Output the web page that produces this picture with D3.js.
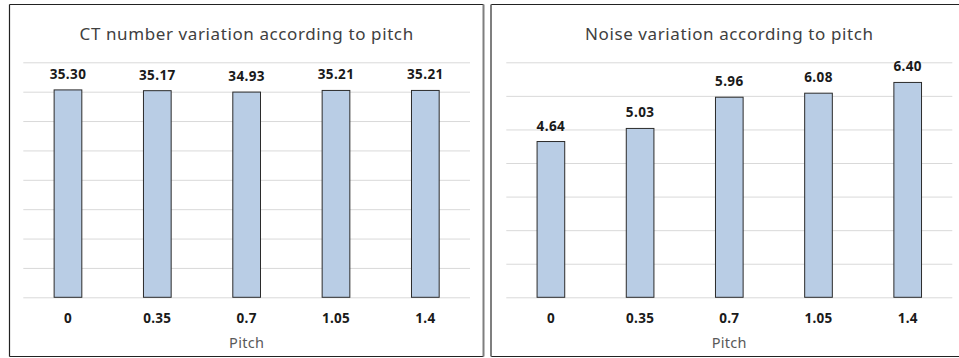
<!DOCTYPE html>
<html>
<head>
<meta charset="utf-8">
<script src="https://cdn.jsdelivr.net/npm/d3@7"></script>
<style>
  html, body { margin: 0; padding: 0; background: #fff; }
  svg { display: block; }
  text { font-family: "Noto Sans", "Open Sans", sans-serif; }
</style>
</head>
<body>
<svg id="chart" width="959" height="358"></svg>
<script>
// Pitch settings (shared category axis)
const pitches = ["0", "0.35", "0.7", "1.05", "1.4"];

// Mean CT number per pitch
const ctValues = [35.30, 35.17, 34.93, 35.21, 35.21];
// Noise (SD) per pitch
const noiseValues = [4.64, 5.03, 5.96, 6.08, 6.40];

// Value axis ticks (gridlines only, no labels)
const ctTicks = [0, 5, 10, 15, 20, 25, 30, 35, 40];
const noiseTicks = [0, 1, 2, 3, 4, 5, 6, 7];

const titles = ["CT number variation according to pitch", "Noise variation according to pitch"];
const xTitle = "Pitch";

const svg = d3.select("#chart");

function panel(cfg) {
  const g = svg.append("g");

  // frame
  const f = cfg.frame;
  g.append("line").attr("x1", f.x0).attr("x2", f.x1).attr("y1", f.y0).attr("y2", f.y0)
    .attr("stroke", "#222").attr("stroke-width", 1.2);
  g.append("line").attr("x1", f.x0).attr("x2", f.x1).attr("y1", f.y1).attr("y2", f.y1)
    .attr("stroke", "#222").attr("stroke-width", 1.2);
  g.append("line").attr("x1", f.x0).attr("x2", f.x0).attr("y1", f.y0).attr("y2", f.y1)
    .attr("stroke", cfg.leftEdge).attr("stroke-width", cfg.leftWidth);
  if (f.right) {
    g.append("line").attr("x1", f.x1).attr("x2", f.x1).attr("y1", f.y0).attr("y2", f.y1)
      .attr("stroke", "#7f7f7f").attr("stroke-width", 2);
  }

  const x = d3.scaleBand().domain(pitches)
    .range([cfg.plot.x0, cfg.plot.x1])
    .paddingInner(0.69).paddingOuter(0.345);
  const y = d3.scaleLinear().domain([0, d3.max(cfg.ticks)])
    .range([cfg.plot.y1, cfg.plot.y0]);

  // gridlines
  const yAxis = d3.axisLeft(y).tickValues(cfg.ticks)
    .tickSize(-(cfg.plot.x1 - cfg.plot.x0)).tickFormat("");
  const ga = g.append("g").attr("transform", `translate(${cfg.plot.x0},0)`).call(yAxis);
  ga.select(".domain").remove();
  ga.selectAll(".tick line").attr("stroke", "#d9d9d9").attr("stroke-width", 1);

  // bars
  const data = pitches.map((p, i) => ({ p, v: cfg.values[i] }));
  g.selectAll("rect.bar").data(data).join("rect")
    .attr("class", "bar")
    .attr("x", d => x(d.p))
    .attr("width", x.bandwidth())
    .attr("y", d => y(d.v))
    .attr("height", d => y(0) - y(d.v))
    .attr("fill", "#b9cde5")
    .attr("stroke", "#2b2b2b")
    .attr("stroke-width", 1);

  // value labels
  g.selectAll("text.val").data(data).join("text")
    .attr("class", "val")
    .attr("x", d => x(d.p) + x.bandwidth() / 2)
    .attr("y", d => y(d.v) - 11)
    .attr("text-anchor", "middle")
    .attr("font-size", 13.5)
    .attr("font-weight", "bold")
    .attr("letter-spacing", 0.4)
    .attr("fill", "#1a1a1a")
    .text(d => d.v.toFixed(2));

  // category labels
  const xAxis = d3.axisBottom(x).tickSize(0).tickPadding(0);
  const gx = g.append("g").attr("transform", `translate(0,${cfg.plot.y1})`).call(xAxis);
  gx.select(".domain").remove();
  gx.selectAll(".tick text")
    .attr("dy", null).attr("y", 26)
    .attr("font-family", "Noto Sans, Open Sans, sans-serif")
    .attr("font-size", 13.5).attr("font-weight", "bold")
    .attr("letter-spacing", 0.3)
    .attr("fill", "#1a1a1a");

  // axis title
  const cx = (cfg.plot.x0 + cfg.plot.x1) / 2;
  g.append("text").attr("x", cx).attr("y", 348)
    .attr("text-anchor", "middle").attr("font-size", 14.5)
    .attr("letter-spacing", 0.3)
    .attr("fill", "#595959").text(xTitle);

  // chart title
  g.append("text").attr("x", cx).attr("y", 39.5)
    .attr("text-anchor", "middle").attr("font-size", 17)
    .attr("letter-spacing", 0.6)
    .attr("fill", "#404040").text(cfg.title);
}

panel({
  frame: { x0: 9.5, x1: 483.5, y0: 4.5, y1: 356.5, right: true },
  leftEdge: "#222", leftWidth: 1.2,
  plot: { x0: 23.3, x1: 470, y0: 62.3, y1: 297.3 },
  values: ctValues, ticks: ctTicks, title: titles[0]
});

panel({
  frame: { x0: 491, x1: 960, y0: 4.5, y1: 356.5, right: false },
  leftEdge: "#7f7f7f", leftWidth: 2,
  plot: { x0: 506.3, x1: 952.3, y0: 62.3, y1: 297.3 },
  values: noiseValues, ticks: noiseTicks, title: titles[1]
});
</script>
</body>
</html>
